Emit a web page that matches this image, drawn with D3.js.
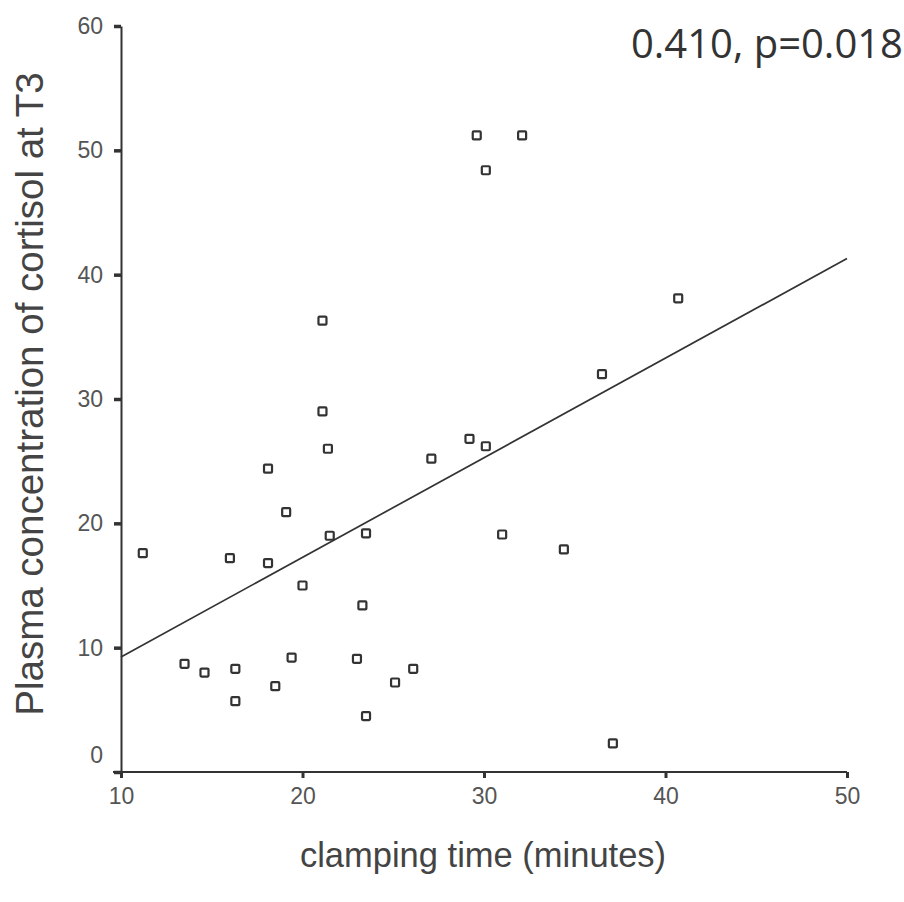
<!DOCTYPE html>
<html>
<head>
<meta charset="utf-8">
<script src="https://cdn.jsdelivr.net/npm/d3@7"></script>
<style>
  body { margin: 0; background: #fff; }
</style>
</head>
<body>
<div id="chart"></div>
<script>
// clamping time (minutes) for each patient
const clampTime = [11.2, 13.5, 14.6, 16.0, 16.3, 16.3, 18.1, 18.1, 18.5, 19.1, 19.4,
  20.0, 21.1, 21.1, 21.4, 21.5, 23.0, 23.3, 23.5, 23.5, 25.1, 26.1, 27.1, 29.2,
  29.6, 30.1, 30.1, 31.0, 32.1, 34.4, 36.5, 37.1, 40.7];

// plasma cortisol at T3, same order as clampTime
const cortisolT3 = [17.6, 8.7, 8.0, 17.2, 8.3, 5.7, 24.4, 16.8, 6.9, 20.9, 9.2,
  15.0, 36.3, 29.0, 26.0, 19.0, 9.1, 13.4, 19.2, 4.5, 7.2, 8.3, 25.2, 26.8,
  51.2, 26.2, 48.4, 19.1, 51.2, 17.9, 32.0, 2.3, 38.1];

// fitted line, value at each end of the x range
const fitX = [10, 50];
const fitY = [9.25, 41.3];

const xTicks = [10, 20, 30, 40, 50];
const yTicks = [0, 10, 20, 30, 40, 50, 60];

const width = 904, height = 902;

const svg = d3.select("#chart")
  .append("svg")
    .attr("width", width)
    .attr("height", height);

svg.append("rect")
  .attr("width", width)
  .attr("height", height)
  .attr("fill", "#fff");

const x = d3.scaleLinear().domain([10, 50]).range([121, 847]);
const y = d3.scaleLinear().domain([0, 60]).range([772, 26]);

const axisColor = "#333";
const labelColor = "#555";
const sans = "Liberation Sans, Arial, sans-serif";

// y axis
const yAxis = svg.append("g")
  .attr("transform", `translate(${x(10)},0)`)
  .call(d3.axisLeft(y).tickValues(yTicks).tickSize(7).tickSizeOuter(0).tickPadding(11));

yAxis.select(".domain").attr("stroke", axisColor).attr("stroke-width", 2);
yAxis.selectAll(".tick line").attr("stroke", axisColor).attr("stroke-width", 3.5);
yAxis.selectAll(".tick text")
  .attr("fill", labelColor)
  .style("font-family", sans)
  .style("font-size", "23px");
// the zero label sits a little above its tick
yAxis.selectAll(".tick text").filter(d => d === 0).attr("y", -17);

// x axis
const xAxis = svg.append("g")
  .attr("transform", `translate(0,${y(0)})`)
  .call(d3.axisBottom(x).tickValues(xTicks).tickSize(6).tickSizeOuter(0).tickPadding(10));

xAxis.select(".domain").attr("stroke", axisColor).attr("stroke-width", 2)
  .attr("d", `M${x(10) - 8},0H${x(50)}`);
xAxis.selectAll(".tick line").attr("stroke", axisColor).attr("stroke-width", 3);
xAxis.selectAll(".tick text")
  .attr("fill", labelColor)
  .style("font-family", sans)
  .style("font-size", "23px");

// regression line
svg.append("line")
  .attr("x1", x(fitX[0]))
  .attr("y1", y(fitY[0]))
  .attr("x2", x(fitX[1]))
  .attr("y2", y(fitY[1]))
  .attr("stroke", "#333")
  .attr("stroke-width", 1.7);

// hollow square markers
const s = 8;
svg.selectAll(".pt")
  .data(clampTime.map((d, i) => ({ t: d, c: cortisolT3[i] })))
  .join("rect")
    .attr("class", "pt")
    .attr("x", d => x(d.t) - s / 2)
    .attr("y", d => y(d.c) - s / 2)
    .attr("width", s)
    .attr("height", s)
    .attr("rx", 1)
    .attr("fill", "#fff")
    .attr("stroke", "#333")
    .attr("stroke-width", 2.2);

// axis titles
svg.append("text")
  .attr("x", 483)
  .attr("y", 867)
  .attr("text-anchor", "middle")
  .attr("fill", "#444")
  .style("font-family", sans)
  .style("font-size", "34.5px")
  .text("clamping time (minutes)");

svg.append("text")
  .attr("transform", "translate(43,394) rotate(-90)")
  .attr("text-anchor", "middle")
  .attr("fill", "#444")
  .style("font-family", sans)
  .style("font-size", "38.5px")
  .text("Plasma concentration of cortisol at T3");

// correlation note
svg.append("text")
  .attr("x", 903)
  .attr("y", 58)
  .attr("text-anchor", "end")
  .attr("fill", "#333")
  .style("font-family", "Open Sans, sans-serif")
  .style("font-size", "40px")
  .text("0.410, p=0.018");
</script>
</body>
</html>
